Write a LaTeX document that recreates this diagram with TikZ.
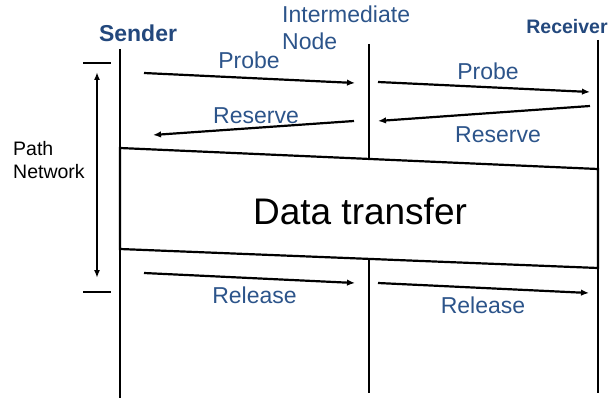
\documentclass[tikz,border=0pt]{standalone}
\usepackage{fontspec}
\setmainfont{Liberation Sans}
\usetikzlibrary{arrows.meta}
\definecolor{lblue}{RGB}{44,84,138}
\definecolor{dblue}{RGB}{35,72,125}
\tikzset{
  lifeline/.style={line width=1.9pt},
  msg/.style={line width=2.2pt,-{Latex[length=8pt,width=6.5pt]}},
  lbl/.style={text=lblue,font=\fontsize{23}{27}\selectfont,inner sep=0pt,anchor=base},
  head/.style={text=dblue,font=\bfseries,inner sep=0pt,anchor=base},
  boxline/.style={line width=2.2pt},
}
\begin{document}
\begin{tikzpicture}[x=1pt,y=-1pt]
\useasboundingbox (0,0) rectangle (609,401);
% lifeline ends
\coordinate (sT) at (120,49);
\coordinate (sB) at (120,398);
\coordinate (iT) at (369,44);
\coordinate (iM1) at (369,159);
\coordinate (iM2) at (369,259);
\coordinate (iB) at (369,393);
\coordinate (rT) at (598,40);
\coordinate (rB) at (598,393);
\draw[lifeline] (sT) -- (sB);
\draw[lifeline] (iT) -- (iM1);
\draw[lifeline] (iM2) -- (iB);
\draw[lifeline] (rT) -- (rB);
% data transfer box
\coordinate (bTL) at (120,148);
\coordinate (bTR) at (598,169);
\coordinate (bBR) at (598,268);
\coordinate (bBL) at (120,249);
\draw[boxline] (bTL) -- (bTR) -- (bBR) -- (bBL) -- cycle;
\node[inner sep=0pt,anchor=base,font=\fontsize{37}{40}\selectfont] (dt) at (360,224) {Data transfer};
% headers
\node[head,font=\fontsize{23}{27}\bfseries] (sender) at (138,42) {Sender};
\node[head,font=\fontsize{19.5}{23}\bfseries] (receiver) at (567,34) {Receiver};
\node[lbl,anchor=base west] (inter1) at (282,23) {Intermediate};
\node[lbl,anchor=base west] (inter2) at (282,50) {Node};
% messages
\coordinate (p1a) at (144,73);  \coordinate (p1b) at (355,83);
\coordinate (p2a) at (378,82);  \coordinate (p2b) at (590,92);
\coordinate (r2a) at (590,106); \coordinate (r2b) at (378,121);
\coordinate (r1a) at (354,121); \coordinate (r1b) at (153,135);
\coordinate (l1a) at (144,273); \coordinate (l1b) at (355,283);
\coordinate (l2a) at (378,283); \coordinate (l2b) at (589,293);
\draw[msg] (p1a) -- (p1b);
\draw[msg] (p2a) -- (p2b);
\draw[msg] (r2a) -- (r2b);
\draw[msg] (r1a) -- (r1b);
\draw[msg] (l1a) -- (l1b);
\draw[msg] (l2a) -- (l2b);
\node[lbl] (probe1) at (249,69) {Probe};
\node[lbl] (probe2) at (488,80) {Probe};
\node[lbl] (res1) at (256,123) {Reserve};
\node[lbl] (res2) at (498,142) {Reserve};
\node[lbl] (rel1) at (254.5,303) {Release};
\node[lbl] (rel2) at (483,313) {Release};
% path network
\coordinate (tk1a) at (83,63);  \coordinate (tk1b) at (111,63);
\coordinate (tk2a) at (83,292); \coordinate (tk2b) at (111,292);
\draw[line width=2.2pt] (tk1a) -- (tk1b);
\draw[line width=2.2pt] (tk2a) -- (tk2b);
\coordinate (pnT) at (97,72);
\coordinate (pnB) at (97,278);
\draw[line width=1.9pt,{Latex[length=8pt,width=6pt]}-{Latex[length=8pt,width=6pt]}] (pnT) -- (pnB);
\node[inner sep=0pt,anchor=base west,font=\fontsize{19.5}{23}\selectfont] (path) at (13,155) {Path};
\node[inner sep=0pt,anchor=base west,font=\fontsize{19.5}{23}\selectfont] (network) at (13,178) {Network};
\end{tikzpicture}
\end{document}
